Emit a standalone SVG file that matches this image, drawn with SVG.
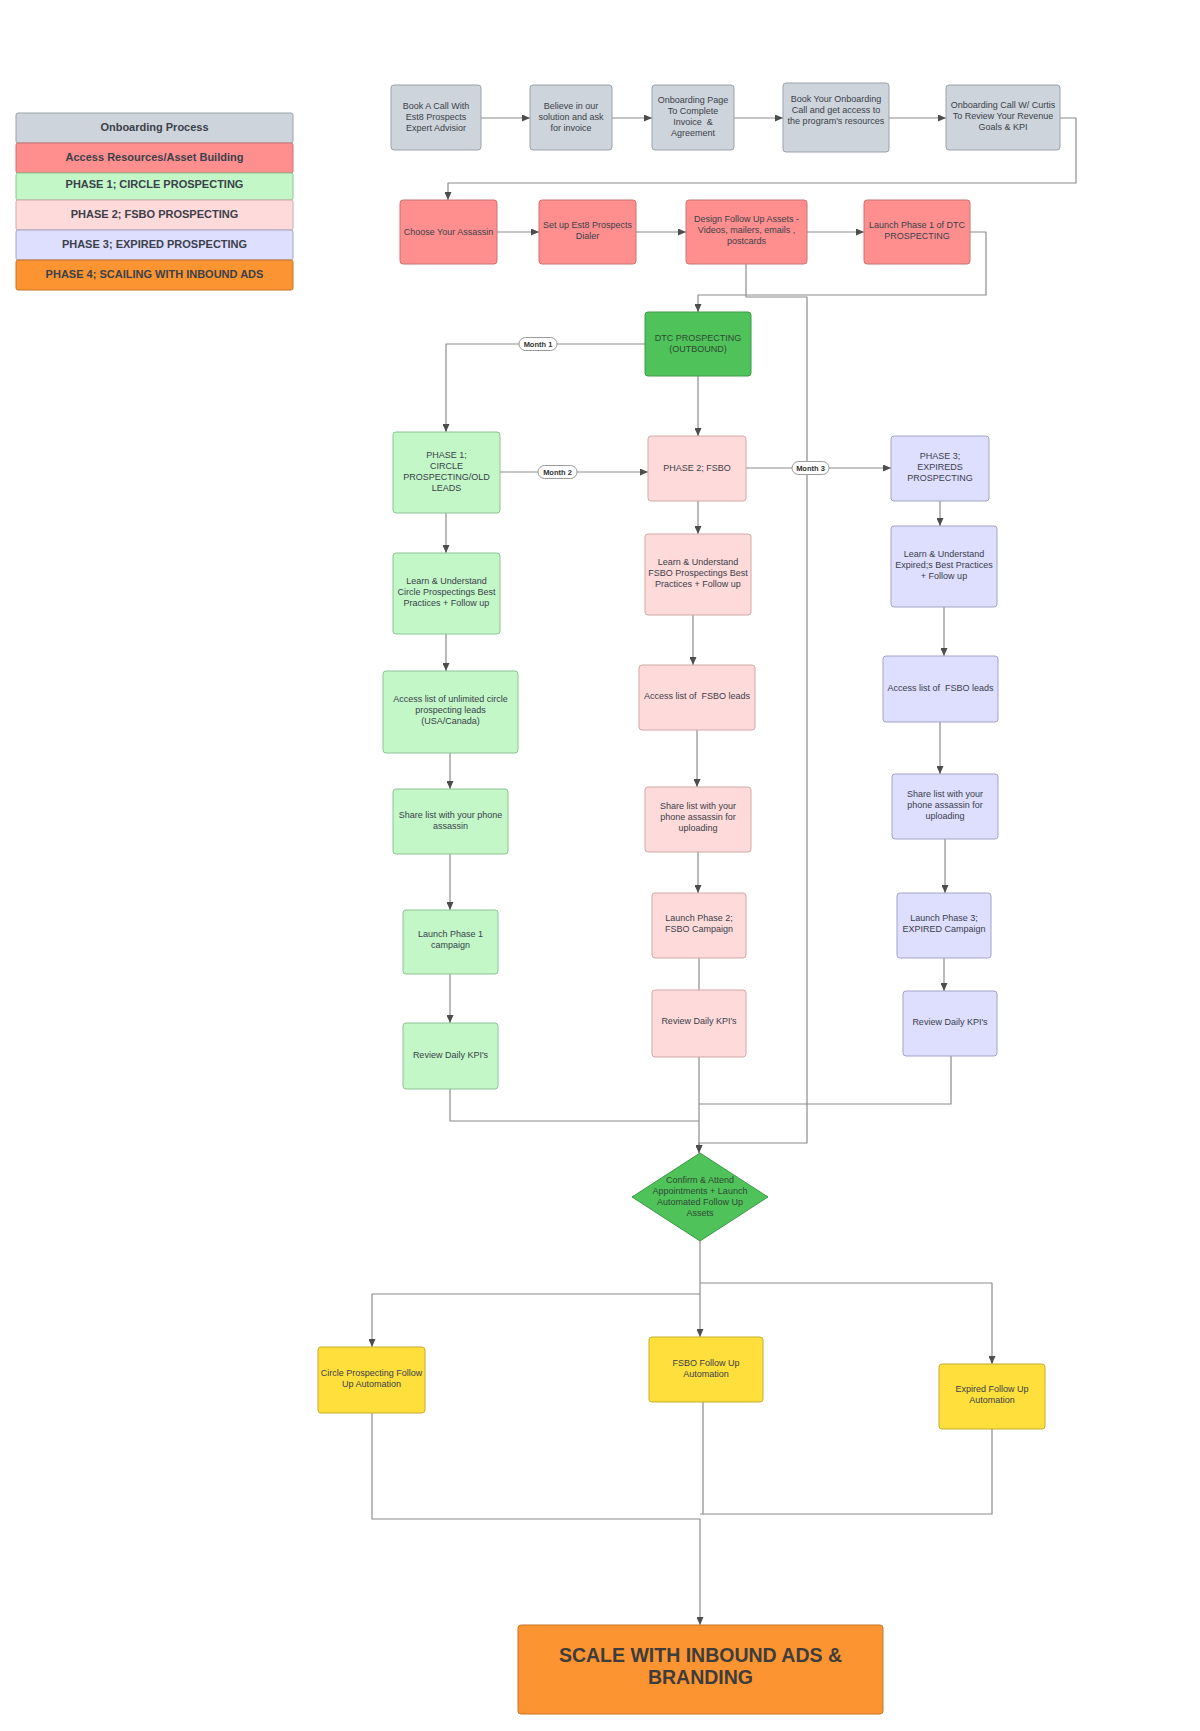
<svg xmlns="http://www.w3.org/2000/svg" width="1200" height="1731" viewBox="0 0 1200 1731">
<defs>
<marker id="arr" markerWidth="8" markerHeight="7" refX="8" refY="3.5" orient="auto" markerUnits="userSpaceOnUse">
<path d="M0,0 L8,3.5 L0,7 z" fill="#4d4d4d"/>
</marker>
<style>
text{font-family:"Liberation Sans",Arial,sans-serif;fill:#3a414a;text-anchor:middle}
.t{font-size:9px;white-space:pre}
.lg{font-size:11px;font-weight:bold}
.ml{font-size:7.5px;font-weight:bold;fill:#333}
.big{font-size:19.5px;font-weight:bold;fill:#3d3d3d}
rect{stroke-width:1}
.gray{fill:#ced4db;stroke:#9ca2a9}
.red{fill:#ff8f8f;stroke:#c97272}
.grn{fill:#c3f7c8;stroke:#8cc493}
.pnk{fill:#ffdada;stroke:#d2a8a8}
.lav{fill:#dedeff;stroke:#a3a3c9}
.org{fill:#fc9432;stroke:#c77526}
.dg{fill:#4fc25a;stroke:#3c9a46}
.yel{fill:#ffdf3c;stroke:#c9ad2c}
.c{fill:none;stroke:#8c8c8c;stroke-width:1.2;stroke-linejoin:round}
.pill{fill:#fff;stroke:#9a9a9a;stroke-width:1}
</style>
</defs>
<rect width="1200" height="1731" fill="#fff"/>

<g id="legend">
<rect class="gray" x="16" y="113" width="277" height="30" rx="2"/>
<text class="lg" x="154.5" y="131">Onboarding Process</text>
<rect class="red" x="16" y="143" width="277" height="30" rx="2"/>
<text class="lg" x="154.5" y="161">Access Resources/Asset Building</text>
<rect class="grn" x="16" y="173" width="277" height="27" rx="2"/>
<text class="lg" x="154.5" y="188">PHASE 1; CIRCLE PROSPECTING</text>
<rect class="pnk" x="16" y="200" width="277" height="30" rx="2"/>
<text class="lg" x="154.5" y="218">PHASE 2; FSBO PROSPECTING</text>
<rect class="lav" x="16" y="230" width="277" height="30" rx="2"/>
<text class="lg" x="154.5" y="248">PHASE 3; EXPIRED PROSPECTING</text>
<rect class="org" x="16" y="260" width="277" height="30" rx="2"/>
<text class="lg" x="154.5" y="278">PHASE 4; SCAILING WITH INBOUND ADS</text>
</g>

<g id="connectors">
<path class="c" d="M481,118 H530" marker-end="url(#arr)"/>
<path class="c" d="M612,118 H652" marker-end="url(#arr)"/>
<path class="c" d="M734,118 H783" marker-end="url(#arr)"/>
<path class="c" d="M889,118 H946" marker-end="url(#arr)"/>
<path class="c" d="M1060,118 H1076 V183 H448 V200" marker-end="url(#arr)"/>
<path class="c" d="M497,232 H539" marker-end="url(#arr)"/>
<path class="c" d="M636,232 H686" marker-end="url(#arr)"/>
<path class="c" d="M807,232 H864" marker-end="url(#arr)"/>
<path class="c" d="M970,232 H986 V295 H698 V312" marker-end="url(#arr)"/>
<path class="c" d="M746,264 V297 H807 V1143 H699 V1153" marker-end="url(#arr)"/>
<path class="c" d="M645,344 H446 V432" marker-end="url(#arr)"/>
<path class="c" d="M698,376 V436" marker-end="url(#arr)"/>
<path class="c" d="M500,472 H648" marker-end="url(#arr)"/>
<path class="c" d="M746,468 H891" marker-end="url(#arr)"/>
<path class="c" d="M446,513 V553" marker-end="url(#arr)"/>
<path class="c" d="M446,634 V671" marker-end="url(#arr)"/>
<path class="c" d="M450,753 V789" marker-end="url(#arr)"/>
<path class="c" d="M450,854 V910" marker-end="url(#arr)"/>
<path class="c" d="M450,974 V1023" marker-end="url(#arr)"/>
<path class="c" d="M450,1089 V1121 H699"/>
<path class="c" d="M698,501 V534" marker-end="url(#arr)"/>
<path class="c" d="M693,615 V665" marker-end="url(#arr)"/>
<path class="c" d="M697,730 V787" marker-end="url(#arr)"/>
<path class="c" d="M698,852 V893" marker-end="url(#arr)"/>
<path class="c" d="M699,958 V1001" marker-end="url(#arr)"/>
<path class="c" d="M699,1057 V1153" marker-end="url(#arr)"/>
<path class="c" d="M940,501 V526" marker-end="url(#arr)"/>
<path class="c" d="M944,607 V656" marker-end="url(#arr)"/>
<path class="c" d="M940,722 V774" marker-end="url(#arr)"/>
<path class="c" d="M945,839 V893" marker-end="url(#arr)"/>
<path class="c" d="M944,958 V991" marker-end="url(#arr)"/>
<path class="c" d="M951,1056 V1104 H699"/>
<path class="c" d="M700,1241 V1337" marker-end="url(#arr)"/>
<path class="c" d="M700,1283 H992 V1364" marker-end="url(#arr)"/>
<path class="c" d="M700,1294 H372 V1347" marker-end="url(#arr)"/>
<path class="c" d="M372,1413 V1519 H700 V1625" marker-end="url(#arr)"/>
<path class="c" d="M703,1402 V1514 H700"/>
<path class="c" d="M992,1429 V1514 H703"/>
<rect class="pill" x="519" y="337.5" width="38" height="13" rx="6.5"/>
<text class="ml" x="538" y="346.8">Month 1</text>
<rect class="pill" x="538" y="465.5" width="39" height="13" rx="6.5"/>
<text class="ml" x="557.5" y="474.8">Month 2</text>
<rect class="pill" x="792" y="461.5" width="37" height="13" rx="6.5"/>
<text class="ml" x="810.5" y="470.8">Month 3</text>
</g>

<g id="n-book-call"><rect class="gray" x="391" y="85" width="90" height="65" rx="3"/>
<text class="t" x="436" y="108.7"><tspan x="436">Book A Call With</tspan><tspan x="436" dy="11">Est8 Prospects</tspan><tspan x="436" dy="11">Expert Advisior</tspan></text></g>
<g id="n-believe"><rect class="gray" x="530" y="85" width="82" height="65" rx="3"/>
<text class="t" x="571" y="109.2"><tspan x="571">Believe in our</tspan><tspan x="571" dy="11">solution and ask</tspan><tspan x="571" dy="11">for invoice</tspan></text></g>
<g id="n-onboarding-page"><rect class="gray" x="652" y="85" width="82" height="65" rx="3"/>
<text class="t" x="693" y="102.7"><tspan x="693">Onboarding Page</tspan><tspan x="693" dy="11">To Complete</tspan><tspan x="693" dy="11">Invoice  &amp;</tspan><tspan x="693" dy="11">Agreement</tspan></text></g>
<g id="n-book-onboarding"><rect class="gray" x="783" y="83" width="106" height="69" rx="3"/>
<text class="t" x="836" y="102.2"><tspan x="836">Book Your Onboarding</tspan><tspan x="836" dy="11">Call and get access to</tspan><tspan x="836" dy="11">the program's resources</tspan></text></g>
<g id="n-onboarding-call"><rect class="gray" x="946" y="85" width="114" height="65" rx="3"/>
<text class="t" x="1003" y="108.2"><tspan x="1003">Onboarding Call W/ Curtis</tspan><tspan x="1003" dy="11">To Review Your Revenue</tspan><tspan x="1003" dy="11">Goals &amp; KPI</tspan></text></g>

<g id="n-choose"><rect class="red" x="400" y="200" width="97" height="64" rx="3"/>
<text class="t" x="448.5" y="235.2">Choose Your Assassin</text></g>
<g id="n-setup"><rect class="red" x="539" y="200" width="97" height="64" rx="3"/>
<text class="t" x="587.5" y="227.7"><tspan x="587.5">Set up Est8 Prospects</tspan><tspan x="587.5" dy="11">Dialer</tspan></text></g>
<g id="n-design"><rect class="red" x="686" y="200" width="121" height="64" rx="3"/>
<text class="t" x="746.5" y="222.2"><tspan x="746.5">Design Follow Up Assets -</tspan><tspan x="746.5" dy="11">Videos, mailers, emails ,</tspan><tspan x="746.5" dy="11">postcards</tspan></text></g>
<g id="n-launch-dtc"><rect class="red" x="864" y="200" width="106" height="64" rx="3"/>
<text class="t" x="917" y="227.7"><tspan x="917">Launch Phase 1 of DTC</tspan><tspan x="917" dy="11">PROSPECTING</tspan></text></g>

<g id="n-dtc"><rect class="dg" x="645" y="312" width="106" height="64" rx="3"/>
<text class="t" x="698" y="340.7" style="fill:#2f4a33"><tspan x="698">DTC PROSPECTING</tspan><tspan x="698" dy="11">(OUTBOUND)</tspan></text></g>

<g id="n-phase1"><rect class="grn" x="393" y="432" width="107" height="81" rx="3"/>
<text class="t" x="446.5" y="457.7"><tspan x="446.5">PHASE 1;</tspan><tspan x="446.5" dy="11">CIRCLE</tspan><tspan x="446.5" dy="11">PROSPECTING/OLD</tspan><tspan x="446.5" dy="11">LEADS</tspan></text></g>
<g id="n-learn1"><rect class="grn" x="393" y="553" width="107" height="81" rx="3"/>
<text class="t" x="446.5" y="584.2"><tspan x="446.5">Learn &amp; Understand</tspan><tspan x="446.5" dy="11">Circle Prospectings Best</tspan><tspan x="446.5" dy="11">Practices + Follow up</tspan></text></g>
<g id="n-access1"><rect class="grn" x="383" y="671" width="135" height="82" rx="3"/>
<text class="t" x="450.5" y="702.2"><tspan x="450.5">Access list of unlimited circle</tspan><tspan x="450.5" dy="11">prospecting leads</tspan><tspan x="450.5" dy="11">(USA/Canada)</tspan></text></g>
<g id="n-share1"><rect class="grn" x="393" y="789" width="115" height="65" rx="3"/>
<text class="t" x="450.5" y="818.2"><tspan x="450.5">Share list with your phone</tspan><tspan x="450.5" dy="11">assassin</tspan></text></g>
<g id="n-launch1"><rect class="grn" x="403" y="910" width="95" height="64" rx="3"/>
<text class="t" x="450.5" y="937.2"><tspan x="450.5">Launch Phase 1</tspan><tspan x="450.5" dy="11">campaign</tspan></text></g>
<g id="n-review1"><rect class="grn" x="403" y="1023" width="95" height="66" rx="3"/>
<text class="t" x="450.5" y="1058.2">Review Daily KPI's</text></g>

<g id="n-phase2"><rect class="pnk" x="648" y="436" width="98" height="65" rx="3"/>
<text class="t" x="697" y="471.2">PHASE 2; FSBO</text></g>
<g id="n-learn2"><rect class="pnk" x="645" y="534" width="106" height="81" rx="3"/>
<text class="t" x="698" y="565.2"><tspan x="698">Learn &amp; Understand</tspan><tspan x="698" dy="11">FSBO Prospectings Best</tspan><tspan x="698" dy="11">Practices + Follow up</tspan></text></g>
<g id="n-access2"><rect class="pnk" x="639" y="665" width="116" height="65" rx="3"/>
<text class="t" x="697" y="699.2">Access list of  FSBO leads</text></g>
<g id="n-share2"><rect class="pnk" x="645" y="787" width="106" height="65" rx="3"/>
<text class="t" x="698" y="809.2"><tspan x="698">Share list with your</tspan><tspan x="698" dy="11">phone assassin for</tspan><tspan x="698" dy="11">uploading</tspan></text></g>
<g id="n-launch2"><rect class="pnk" x="652" y="893" width="94" height="65" rx="3"/>
<text class="t" x="699" y="920.7"><tspan x="699">Launch Phase 2;</tspan><tspan x="699" dy="11">FSBO Campaign</tspan></text></g>
<g id="n-review2"><rect class="pnk" x="652" y="990" width="94" height="67" rx="3"/>
<text class="t" x="699" y="1024.2">Review Daily KPI's</text></g>

<g id="n-phase3"><rect class="lav" x="891" y="436" width="98" height="65" rx="3"/>
<text class="t" x="940" y="458.7"><tspan x="940">PHASE 3;</tspan><tspan x="940" dy="11">EXPIREDS</tspan><tspan x="940" dy="11">PROSPECTING</tspan></text></g>
<g id="n-learn3"><rect class="lav" x="891" y="526" width="106" height="81" rx="3"/>
<text class="t" x="944" y="557.2"><tspan x="944">Learn &amp; Understand</tspan><tspan x="944" dy="11">Expired;s Best Practices</tspan><tspan x="944" dy="11">+ Follow up</tspan></text></g>
<g id="n-access3"><rect class="lav" x="883" y="656" width="115" height="66" rx="3"/>
<text class="t" x="940.5" y="691.2">Access list of  FSBO leads</text></g>
<g id="n-share3"><rect class="lav" x="892" y="774" width="106" height="65" rx="3"/>
<text class="t" x="945" y="797.2"><tspan x="945">Share list with your</tspan><tspan x="945" dy="11">phone assassin for</tspan><tspan x="945" dy="11">uploading</tspan></text></g>
<g id="n-launch3"><rect class="lav" x="897" y="893" width="94" height="65" rx="3"/>
<text class="t" x="944" y="921.2"><tspan x="944">Launch Phase 3;</tspan><tspan x="944" dy="11">EXPIRED Campaign</tspan></text></g>
<g id="n-review3"><rect class="lav" x="903" y="991" width="94" height="65" rx="3"/>
<text class="t" x="950" y="1025.2">Review Daily KPI's</text></g>

<g id="n-confirm"><path class="dg" d="M700,1153 L768,1197 L700,1241 L632,1197 Z" stroke-width="1" stroke-linejoin="round"/>
<text class="t" x="700" y="1182.7" style="fill:#2f4a33"><tspan x="700">Confirm &amp; Attend</tspan><tspan x="700" dy="11">Appointments + Launch</tspan><tspan x="700" dy="11">Automated Follow Up</tspan><tspan x="700" dy="11">Assets</tspan></text></g>

<g id="n-circle-auto"><rect class="yel" x="318" y="1347" width="107" height="66" rx="3"/>
<text class="t" x="371.5" y="1376.2"><tspan x="371.5">Circle Prospecting Follow</tspan><tspan x="371.5" dy="11">Up Automation</tspan></text></g>
<g id="n-fsbo-auto"><rect class="yel" x="649" y="1337" width="114" height="65" rx="3"/>
<text class="t" x="706" y="1366.2"><tspan x="706">FSBO Follow Up</tspan><tspan x="706" dy="11">Automation</tspan></text></g>
<g id="n-expired-auto"><rect class="yel" x="939" y="1364" width="106" height="65" rx="3"/>
<text class="t" x="992" y="1392.2"><tspan x="992">Expired Follow Up</tspan><tspan x="992" dy="11">Automation</tspan></text></g>

<g id="n-scale"><rect class="org" x="518" y="1625" width="365" height="89" rx="3"/>
<text class="big" x="700.5" y="1662"><tspan x="700.5">SCALE WITH INBOUND ADS &amp;</tspan><tspan x="700.5" dy="22">BRANDING</tspan></text></g>
</svg>
